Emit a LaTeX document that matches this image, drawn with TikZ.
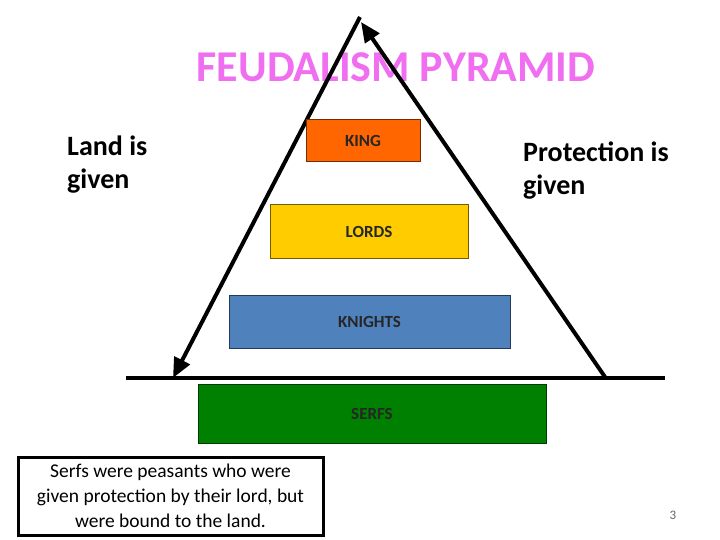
\documentclass[tikz,border=0pt]{standalone}
\usepackage{fontspec}
\setmainfont{Carlito}
\usetikzlibrary{arrows.meta}
\definecolor{titlepink}{RGB}{240,110,240}
\definecolor{kingc}{RGB}{255,102,0}
\definecolor{lordc}{RGB}{255,204,0}
\definecolor{knightc}{RGB}{79,129,189}
\definecolor{serfc}{RGB}{0,128,0}
\tikzset{
  tier/.style={draw=#1!45!black, fill=#1, line width=1pt, inner sep=0pt,
    font=\fontsize{17}{20}\selectfont\bfseries, text=black!85},
  side/.style={font=\fontsize{28}{33}\selectfont\bfseries, align=left, inner sep=0pt, anchor=base west},
  bigline/.style={line width=4pt},
  tip/.style={-{Triangle[length=20pt,width=17pt]}}
}
\begin{document}
\begin{tikzpicture}[x=1pt,y=-1pt]
\useasboundingbox (0,0) rectangle (720,540);
\node[font=\fontsize{44}{50}\selectfont\bfseries, text=titlepink, inner sep=0pt, anchor=base] (title) at (396,82) {FEUDALISM PYRAMID};
\coordinate (apex) at (360,17);
\coordinate (apexR) at (361,22);
\coordinate (bl) at (173,378);
\coordinate (br) at (605,377);
\coordinate (hl) at (126,378);
\coordinate (hr) at (665,378);
\draw[bigline] (hl) -- (hr);
\draw[bigline, tip] (apex) -- (bl);
\draw[bigline, tip] (br) -- (apexR);
\node[tier=kingc, minimum width=114pt, minimum height=42pt] (king) at (363,141) {KING};
\node[tier=lordc, minimum width=198pt, minimum height=53pt] (lords) at (369,231.5) {LORDS};
\node[tier=knightc, minimum width=281pt, minimum height=53pt] (knights) at (369.5,321.5) {KNIGHTS};
\node[tier=serfc, minimum width=348pt, minimum height=59pt] (serfs) at (372,413.5) {SERFS};
\node[side] (land) at (67,189) {Land is\\given};
\node[side] (prot) at (523,195) {Protection is\\given};
\node[draw=black, line width=3pt, minimum width=305pt, minimum height=78pt, align=center, inner sep=0pt,
  font=\fontsize{19.5}{25}\selectfont] (note) at (170.5,496) {Serfs were peasants who were\\given protection by their lord, but\\were bound to the land.};
\node[font=\fontsize{13}{15}\selectfont, text=black!60, inner sep=0pt] (pg) at (673,515) {3};
\end{tikzpicture}
\end{document}
